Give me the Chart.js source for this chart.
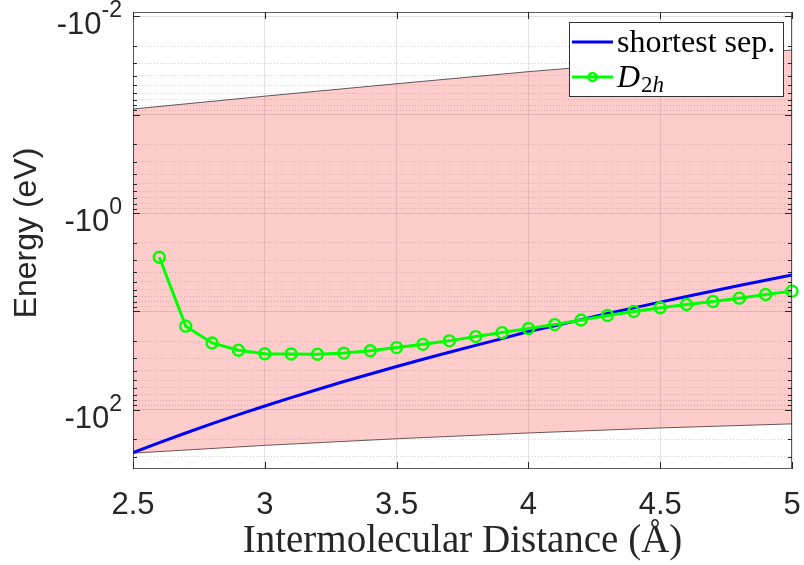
<!DOCTYPE html>
<html>
<head>
<meta charset="utf-8">
<script src="https://cdn.jsdelivr.net/npm/chart.js@4/dist/chart.umd.min.js"></script>
<style>
  body { margin: 0; background: #fff; }
  canvas { display: block; }
</style>
</head>
<body>
<canvas id="myChart" width="804" height="565"></canvas>
<script>
// distances in angstrom, energies in eV (all negative)
var sepDistance = [2.5, 2.6, 2.7, 2.8, 2.9, 3.0, 3.1, 3.2, 3.3, 3.4, 3.5, 3.6, 3.7,
                   3.8, 3.9, 4.0, 4.1, 4.2, 4.3, 4.4, 4.5, 4.6, 4.7, 4.8, 4.9, 5.0];
var sepEnergy = [-273, -215.8, -172.1, -138.3, -112.1, -91.4, -75.1, -62.1, -51.6, -43.2,
                 -36.3, -30.6, -26.0, -22.1, -18.9, -16.0, -14.0, -12.1, -10.5, -9.19,
                 -8.03, -7.04, -6.18, -5.45, -4.82, -4.25];

var d2hDistance = [2.6, 2.7, 2.8, 2.9, 3.0, 3.1, 3.2, 3.3, 3.4, 3.5, 3.6, 3.7, 3.8,
                   3.9, 4.0, 4.1, 4.2, 4.3, 4.4, 4.5, 4.6, 4.7, 4.8, 4.9, 5.0];
var d2hEnergy = [-2.81, -14.1, -20.9, -24.8, -26.9, -27.1, -27.2, -26.5, -25.1, -23.3,
                 -21.6, -19.9, -18.0, -16.4, -14.9, -13.6, -12.2, -11.0, -10.0, -9.18,
                 -8.49, -7.91, -7.32, -6.71, -6.21];

// shaded range
var bandDistance = [2.5, 3.0, 3.5, 4.0, 4.5, 5.0];
var bandWeak = [-0.0873, -0.0646, -0.0483, -0.0364, -0.0282, -0.0219];
var bandStrong = [-276, -230, -197, -172, -153, -139];

var xTicks = [2.5, 3, 3.5, 4, 4.5, 5];
var xTickLabels = ['2.5', '3', '3.5', '4', '4.5', '5'];
var yMajorTicks = [0.01, 1, 100];
var yTickExponents = ['-2', '0', '2'];

var labels = ['shortest sep.', 'D_2h'];

var axisColor = '#262626';
var sansFont = '"Liberation Sans", Arial, sans-serif';
var serifFont = '"Liberation Serif", "Times New Roman", serif';

function pts(xs, ys) {
  return xs.map(function(v, i) { return { x: v, y: Math.abs(ys[i]) }; });
}

function isMajor(v) {
  var m = v / Math.pow(10, Math.floor(Math.log10(v) + 1e-9));
  return Math.abs(m - 1) < 1e-6;
}

var data = {
  datasets: [
    {
      label: 'band weak',
      data: pts(bandDistance, bandWeak),
      borderColor: '#333',
      borderWidth: 0.8,
      pointRadius: 0,
      backgroundColor: 'rgba(255,0,0,0.2)',
      fill: '+1',
      order: 3
    },
    {
      label: 'band strong',
      data: pts(bandDistance, bandStrong),
      borderColor: '#333',
      borderWidth: 0.8,
      pointRadius: 0,
      fill: false,
      order: 3
    },
    {
      label: labels[0],
      data: pts(sepDistance, sepEnergy),
      borderColor: '#0000ff',
      borderWidth: 3,
      pointRadius: 0,
      fill: false,
      order: 2
    },
    {
      label: labels[1],
      data: pts(d2hDistance, d2hEnergy),
      borderColor: '#00ff00',
      borderWidth: 3,
      pointRadius: 5.5,
      pointBorderWidth: 2.4,
      pointBackgroundColor: 'rgba(0,0,0,0)',
      pointBorderColor: '#00ff00',
      fill: false,
      clip: false,
      order: 1
    }
  ]
};

// box, inward ticks, y labels with superscripts, axis titles, legend
var framePlugin = {
  id: 'frame',
  afterDraw: function(chart) {
    var ctx = chart.ctx, a = chart.chartArea;
    var xs = chart.scales.x, ys = chart.scales.y;
    ctx.save();

    // ticks
    ctx.strokeStyle = axisColor;
    ctx.lineWidth = 1;
    ctx.beginPath();
    xTicks.forEach(function(v) {
      var px = Math.round(xs.getPixelForValue(v)) + 0.5;
      ctx.moveTo(px, a.bottom); ctx.lineTo(px, a.bottom - 7);
      ctx.moveTo(px, a.top); ctx.lineTo(px, a.top + 7);
    });
    ys.ticks.forEach(function(t) {
      var py = Math.round(ys.getPixelForValue(t.value)) + 0.5;
      var len = isMajor(t.value) ? 7 : 4;
      ctx.moveTo(a.left, py); ctx.lineTo(a.left + len, py);
      ctx.moveTo(a.right, py); ctx.lineTo(a.right - len, py);
    });
    ctx.stroke();

    ctx.strokeStyle = 'rgba(38,38,38,0.75)';
    ctx.strokeRect(a.left + 0.5, a.top + 0.5, a.right - a.left - 1, a.bottom - a.top - 1);

    // y tick labels: -10 with superscript exponent
    ctx.fillStyle = axisColor;
    ctx.textBaseline = 'alphabetic';
    yMajorTicks.forEach(function(v, i) {
      var py = ys.getPixelForValue(v);
      ctx.font = '23px ' + sansFont;
      var we = ctx.measureText(yTickExponents[i]).width;
      ctx.textAlign = 'left';
      var right = a.left - 11;
      ctx.fillText(yTickExponents[i], right - we, py + 1);
      ctx.font = '31px ' + sansFont;
      ctx.textAlign = 'right';
      ctx.fillText('-10', right - we, py + 18);
    });

    // y title
    ctx.save();
    ctx.translate(36, 233);
    ctx.rotate(-Math.PI / 2);
    ctx.font = '32px ' + sansFont;
    ctx.textAlign = 'center';
    ctx.fillText('Energy (eV)', 0, 0);
    ctx.restore();

    // x title
    ctx.font = '39px ' + serifFont;
    ctx.textAlign = 'center';
    ctx.fillText('Intermolecular Distance (\u00C5)', (a.left + a.right) / 2, 552);

    // legend
    var lx = 569, ly = 22, lw = 214, lh = 74;
    ctx.fillStyle = '#fff';
    ctx.fillRect(lx, ly, lw, lh);
    ctx.strokeStyle = '#333';
    ctx.lineWidth = 1;
    ctx.strokeRect(lx + 0.5, ly + 0.5, lw, lh);
    var rows = [42, 77];
    [2, 3].forEach(function(di, r) {
      var ds = chart.data.datasets[di];
      var ry = rows[r];
      ctx.strokeStyle = ds.borderColor;
      ctx.lineWidth = ds.borderWidth;
      ctx.beginPath();
      ctx.moveTo(lx + 3, ry); ctx.lineTo(lx + 44, ry);
      ctx.stroke();
      if (ds.pointRadius) {
        ctx.lineWidth = ds.pointBorderWidth;
        ctx.beginPath();
        ctx.arc(lx + 23.5, ry, 4, 0, Math.PI * 2);
        ctx.stroke();
      }
      ctx.fillStyle = '#000';
      var tx = lx + 48, base = ry + 10;
      var parts = ds.label.split('_');
      if (parts.length === 1) {
        ctx.font = '32px ' + serifFont;
        ctx.textAlign = 'left';
        ctx.fillText(parts[0], tx, base);
      } else {
        ctx.textAlign = 'left';
        ctx.font = 'italic 32px ' + serifFont;
        ctx.fillText(parts[0], tx, base);
        tx += ctx.measureText(parts[0]).width + 1;
        ctx.font = '23px ' + serifFont;
        ctx.fillText(parts[1].charAt(0), tx, base + 5);
        tx += ctx.measureText(parts[1].charAt(0)).width;
        ctx.font = 'italic 23px ' + serifFont;
        ctx.fillText(parts[1].slice(1), tx, base + 5);
      }
    });
    ctx.restore();
  }
};

var options = {
  responsive: false,
  animation: false,
  devicePixelRatio: 1,
  layout: { padding: { top: 12, right: 12, left: 0, bottom: 0 } },
  plugins: {
    legend: { display: false },
    tooltip: { enabled: false }
  },
  elements: { line: { tension: 0 } },
  scales: {
    x: {
      type: 'linear',
      min: 2.5,
      max: 5,
      afterFit: function(s) {
        s.height = 96;
        s.paddingLeft = 0;
        s.paddingRight = 0;
      },
      afterBuildTicks: function(s) {
        s.ticks = xTicks.map(function(v) { return { value: v }; });
      },
      ticks: {
        padding: 18,
        color: axisColor,
        font: { family: sansFont, size: 31 },
        callback: function(value) {
          var i = xTicks.indexOf(value);
          return i >= 0 ? xTickLabels[i] : '';
        }
      },
      grid: {
        drawTicks: false,
        color: 'rgba(38,38,38,0.13)'
      },
      border: { display: false }
    },
    y: {
      type: 'logarithmic',
      reverse: true,
      min: 0.009,
      max: 400,
      afterFit: function(s) { s.width = 133; },
      afterBuildTicks: function(s) {
        var t = [];
        for (var e = -3; e <= 2; e++) {
          for (var m = 1; m <= 9; m++) {
            var v = m * Math.pow(10, e);
            if (v > 0.0095 && v < 400) t.push({ value: v });
          }
        }
        s.ticks = t;
      },
      ticks: { display: false },
      grid: {
        drawTicks: false,
        color: function(c) {
          return c.tick && isMajor(c.tick.value) ? 'rgba(38,38,38,0.15)' : 'rgba(38,38,38,0.2)';
        }
      },
      border: {
        display: false,
        dash: function(c) {
          return c.tick && isMajor(c.tick.value) ? [] : [1, 2];
        }
      }
    }
  }
};

var ctx = document.getElementById('myChart').getContext('2d');
var energyChart = new Chart(ctx, {
  type: 'line',
  data: data,
  options: options,
  plugins: [framePlugin]
});
</script>
</body>
</html>
